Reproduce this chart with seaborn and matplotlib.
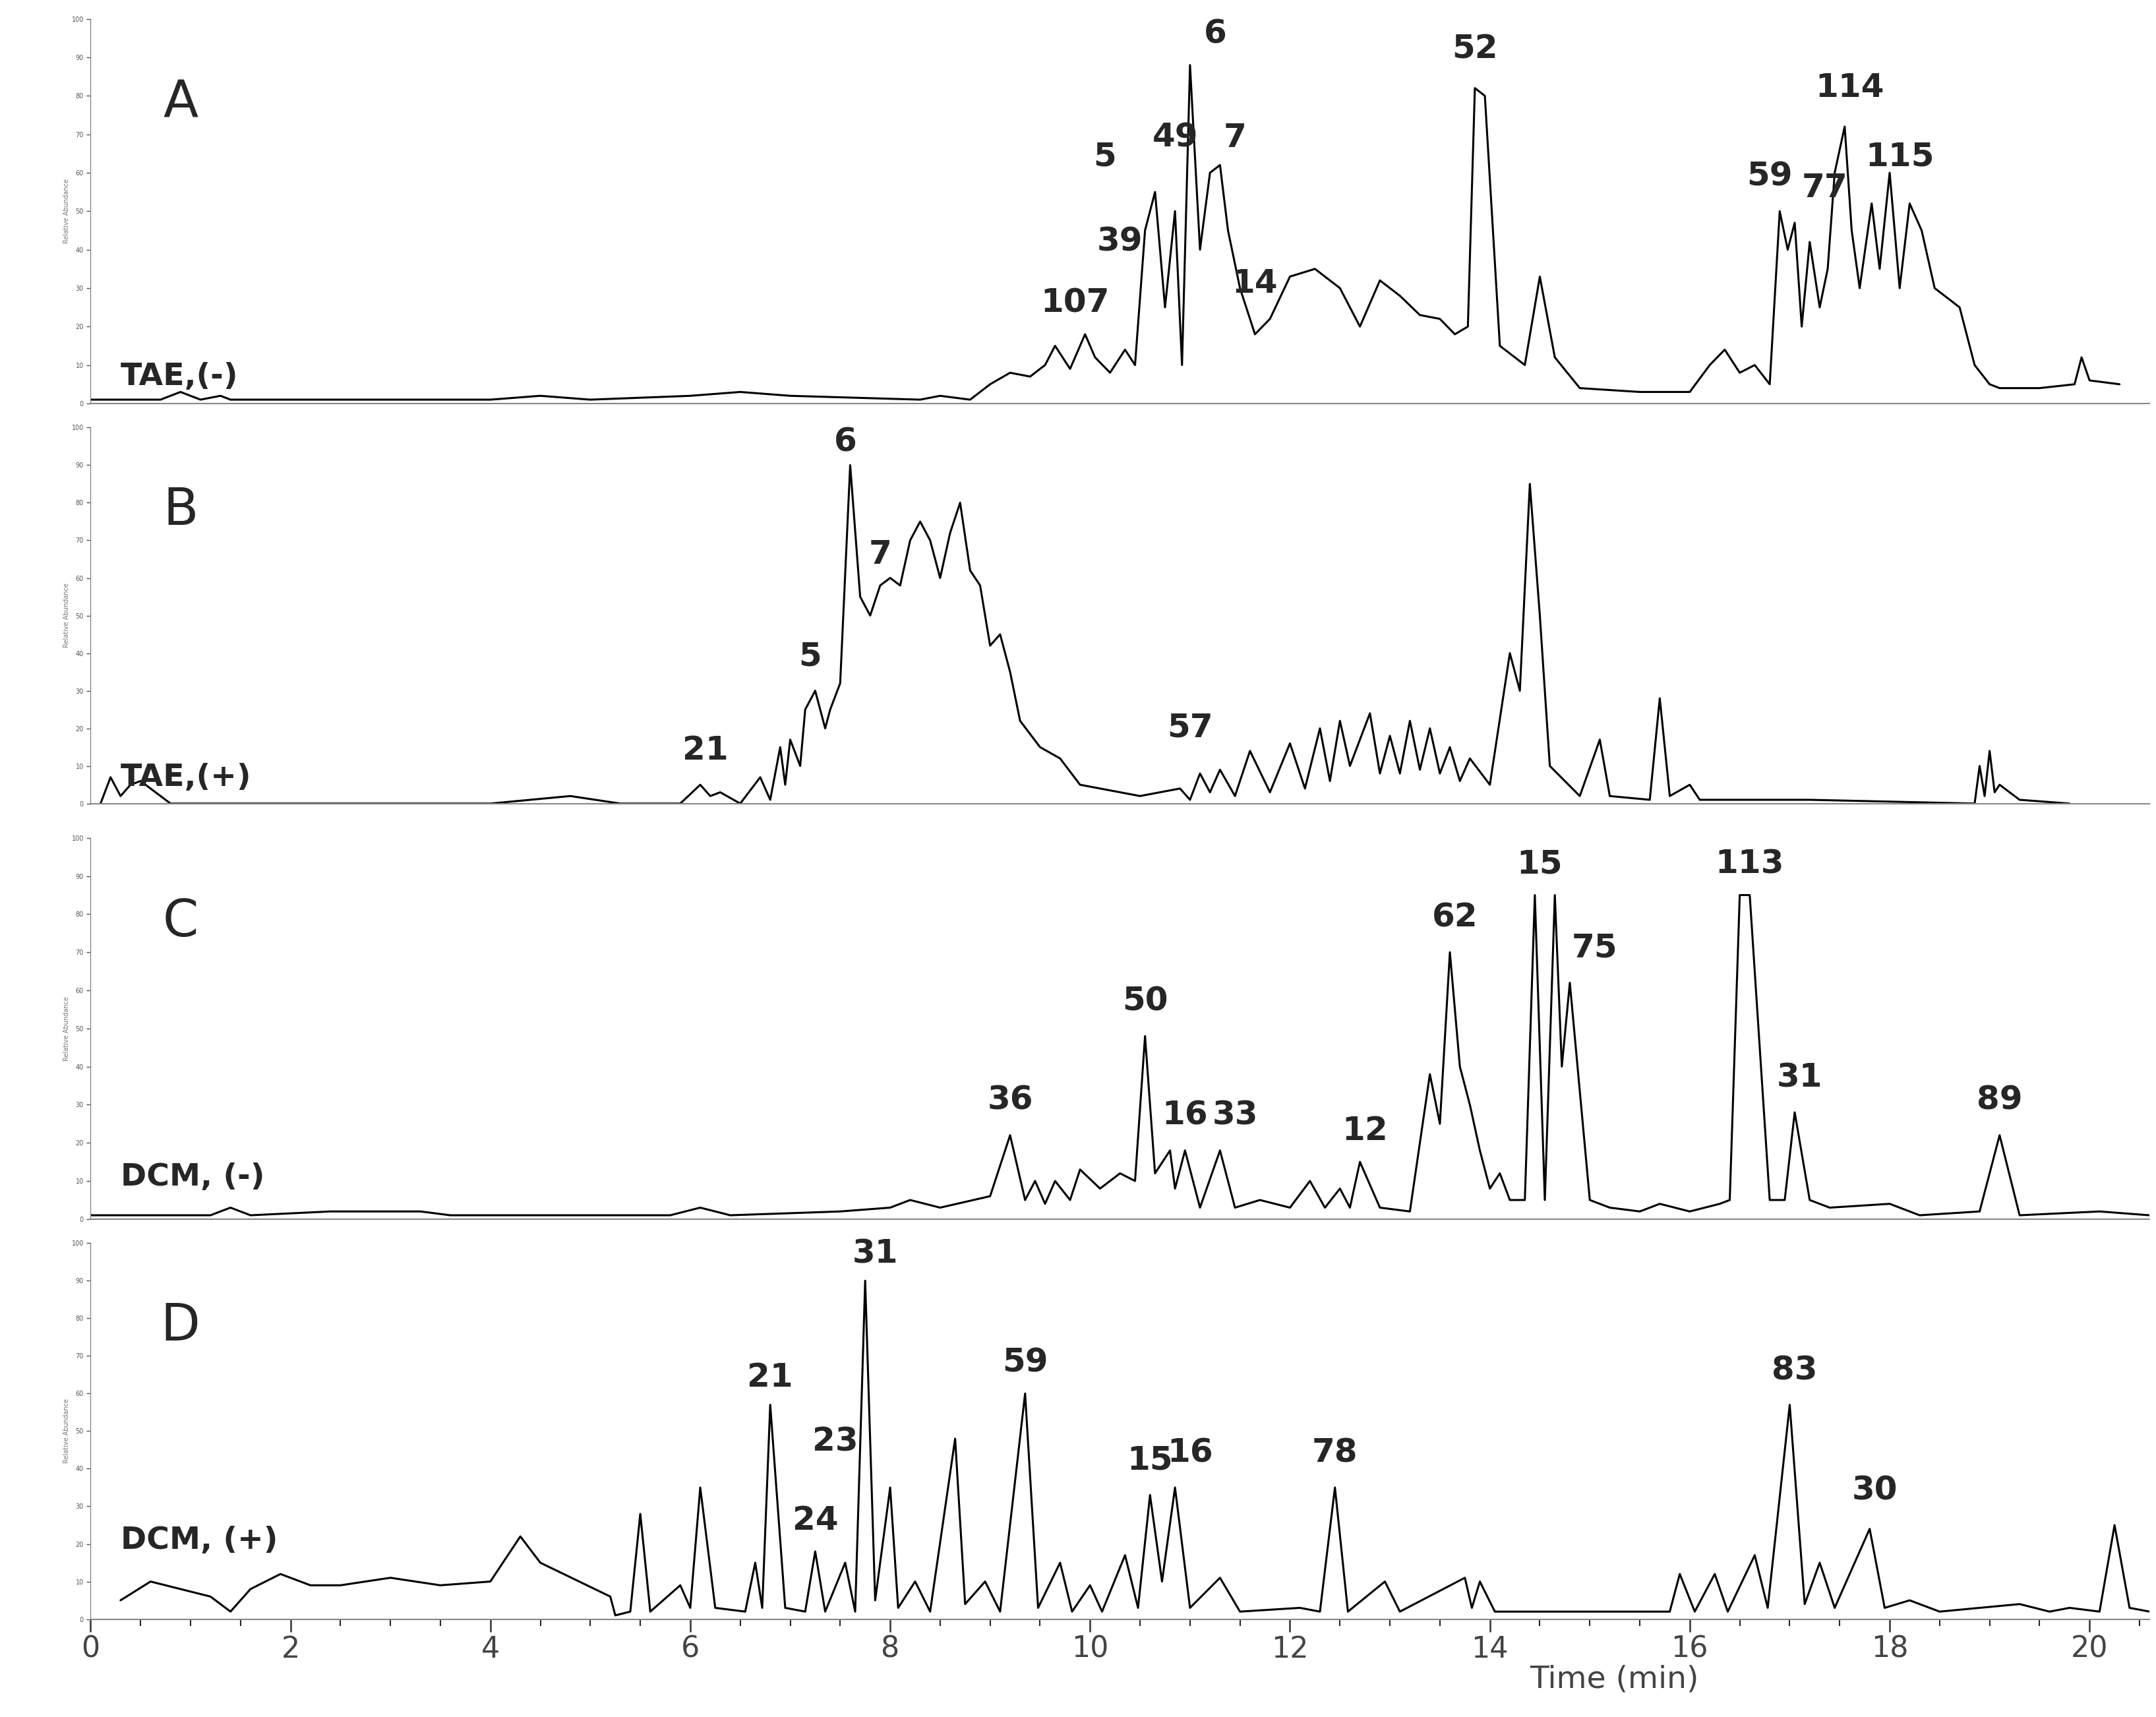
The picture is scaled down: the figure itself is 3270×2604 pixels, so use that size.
import numpy as np
import matplotlib
matplotlib.use("Agg")
import matplotlib.pyplot as plt
import seaborn as sns

sns.set_style("white")
plt.rcParams['font.family'] = ['DejaVu Sans']

A_trace = [(0,1),(0.7,1),(0.9,3),(1.1,1),(1.3,2),(1.4,1),(1.6,1),(4,1),(4.5,2),(5,1),(6,2),(6.5,3),(7,2),(8.3,1),(8.5,2),(8.8,1),
 (9.0,5),(9.2,8),(9.4,7),(9.55,10),(9.65,15),(9.8,9),(9.95,18),(10.05,12),(10.2,8),(10.35,14),(10.45,10),(10.55,45),(10.65,55),
 (10.75,25),(10.85,50),(10.92,10),(11.0,88),(11.1,40),(11.2,60),(11.3,62),(11.38,45),(11.5,30),(11.65,18),(11.8,22),(12.0,33),
 (12.25,35),(12.5,30),(12.7,20),(12.9,32),(13.1,28),(13.3,23),(13.5,22),(13.65,18),(13.78,20),(13.85,82),(13.95,80),(14.1,15),
 (14.35,10),(14.5,33),(14.65,12),(14.9,4),(15.5,3),(16.0,3),(16.2,10),(16.35,14),(16.5,8),(16.65,10),(16.8,5),(16.9,50),(16.98,40),
 (17.05,47),(17.12,20),(17.2,42),(17.3,25),(17.38,35),(17.45,60),(17.55,72),(17.62,45),(17.7,30),(17.82,52),(17.9,35),(18.0,60),
 (18.1,30),(18.2,52),(18.32,45),(18.45,30),(18.6,27),(18.7,25),(18.85,10),(19.0,5),(19.1,4),(19.5,4),(19.85,5),(19.92,12),(20.0,6),(20.3,5)]
A_labels = ["107","39","5","49","6","7","14","52","59","77","114","115"]
A_lab_t = [9.85,10.3,10.15,10.85,11.25,11.45,11.65,13.85,16.8,17.35,17.6,18.1]
A_lab_y = [22,38,60,65,92,65,27,88,55,52,78,60]

B_trace = [(0.1,0),(0.2,7),(0.3,2),(0.4,5),(0.5,6),(0.8,0),(4,0),(4.8,2),(5.3,0),(5.9,0),(6.1,5),(6.2,2),(6.3,3),(6.5,0),(6.7,7),(6.8,1),
 (6.9,15),(6.95,5),(7.0,17),(7.1,10),(7.15,25),(7.25,30),(7.35,20),(7.4,25),(7.5,32),(7.6,90),(7.7,55),(7.8,50),(7.9,58),(8.0,60),
 (8.1,58),(8.2,70),(8.3,75),(8.4,70),(8.5,60),(8.6,72),(8.7,80),(8.8,62),(8.9,58),(9.0,42),(9.1,45),(9.2,35),(9.3,22),(9.5,15),
 (9.7,12),(9.9,5),(10.5,2),(10.9,4),(11.0,1),(11.1,8),(11.2,3),(11.3,9),(11.45,2),(11.6,14),(11.8,3),(12.0,16),(12.15,4),(12.3,20),
 (12.4,6),(12.5,22),(12.6,10),(12.8,24),(12.9,8),(13.0,18),(13.1,8),(13.2,22),(13.3,9),(13.4,20),(13.5,8),(13.6,15),(13.7,6),
 (13.8,12),(14.0,5),(14.2,40),(14.3,30),(14.4,85),(14.5,50),(14.6,10),(14.9,2),(15.1,17),(15.2,2),(15.6,1),(15.7,28),(15.8,2),
 (16.0,5),(16.1,1),(17.2,1),(18.85,0),(18.9,10),(18.95,2),(19.0,14),(19.05,3),(19.1,5),(19.3,1),(19.8,0)]
B_labels = ["21","5","6","7","57"]
B_lab_t = [6.15,7.2,7.55,7.9,11.0]
B_lab_y = [10,35,92,62,16]

C_trace = [(0,1),(1.2,1),(1.4,3),(1.6,1),(2.4,2),(3.3,2),(3.6,1),(5.8,1),(6.1,3),(6.4,1),(7.5,2),(8.0,3),(8.2,5),(8.5,3),(9.0,6),
 (9.2,22),(9.35,5),(9.45,10),(9.55,4),(9.65,10),(9.8,5),(9.9,13),(10.1,8),(10.3,12),(10.45,10),(10.55,48),(10.65,12),(10.8,18),
 (10.85,8),(10.95,18),(11.1,3),(11.3,18),(11.45,3),(11.7,5),(12.0,3),(12.2,10),(12.35,3),(12.5,8),(12.6,3),(12.7,15),(12.9,3),
 (13.2,2),(13.4,38),(13.5,25),(13.6,70),(13.7,40),(13.8,30),(13.9,18),(14.0,8),(14.1,12),(14.2,5),(14.35,5),(14.45,85),(14.55,5),
 (14.65,85),(14.72,40),(14.8,62),(15.0,5),(15.2,3),(15.5,2),(15.7,4),(16.0,2),(16.3,4),(16.4,5),(16.5,85),(16.6,85),(16.8,5),
 (16.95,5),(17.05,28),(17.2,5),(17.4,3),(18.0,4),(18.3,1),(18.9,2),(19.1,22),(19.3,1),(20.1,2),(20.6,1)]
C_labels = ["36","50","16","33","12","62","15","75","113","31","89"]
C_lab_t = [9.2,10.55,10.95,11.45,12.75,13.65,14.5,15.05,16.6,17.1,19.1]
C_lab_y = [27,53,23,23,19,75,89,67,89,33,27]

D_trace = [(0.3,5),(0.6,10),(0.9,8),(1.2,6),(1.4,2),(1.6,8),(1.9,12),(2.2,9),(2.5,9),(3.0,11),(3.5,9),(4.0,10),(4.3,22),(4.5,15),
 (5.2,6),(5.25,1),(5.4,2),(5.5,28),(5.6,2),(5.9,9),(6.0,3),(6.1,35),(6.25,3),(6.55,2),(6.65,15),(6.72,3),(6.8,57),(6.95,3),
 (7.15,2),(7.25,18),(7.35,2),(7.55,15),(7.65,2),(7.75,90),(7.85,5),(8.0,35),(8.08,3),(8.25,10),(8.4,2),(8.65,48),(8.75,4),
 (8.95,10),(9.1,2),(9.35,60),(9.48,3),(9.7,15),(9.82,2),(10.0,9),(10.12,2),(10.35,17),(10.48,3),(10.6,33),(10.72,10),(10.85,35),
 (11.0,3),(11.3,11),(11.5,2),(12.1,3),(12.3,2),(12.45,35),(12.58,2),(12.95,10),(13.1,2),(13.75,11),(13.82,3),(13.9,10),(14.05,2),
 (15.8,2),(15.9,12),(16.05,2),(16.25,12),(16.38,2),(16.65,17),(16.78,3),(17.0,57),(17.15,4),(17.3,15),(17.45,3),(17.8,24),
 (17.95,3),(18.2,5),(18.5,2),(19.3,4),(19.6,2),(19.8,3),(20.1,2),(20.25,25),(20.4,3),(20.6,2)]
D_labels = ["21","24","23","31","59","15","16","78","83","30"]
D_lab_t = [6.8,7.25,7.45,7.85,9.35,10.6,11.0,12.45,17.05,17.85]
D_lab_y = [60,22,43,93,64,38,40,40,62,30]

panels = [("A","TAE,(-)",A_trace,A_labels,A_lab_t,A_lab_y,3),
          ("B","TAE,(+)",B_trace,B_labels,B_lab_t,B_lab_y,3),
          ("C","DCM, (-)",C_trace,C_labels,C_lab_t,C_lab_y,7),
          ("D","DCM, (+)",D_trace,D_labels,D_lab_t,D_lab_y,17)]
rects = [(0.989,0.765),(0.751,0.532),(0.512,0.290),(0.276,0.057)]

fig = plt.figure(figsize=(32.7,26.04), dpi=100)
for i,((let,name,tr,labs,lt,ly,ny),(top,bot)) in enumerate(zip(panels,rects)):
    ax = fig.add_axes([0.042,bot,0.955,top-bot])
    arr = np.array(tr)
    sns.lineplot(x=arr[:,0], y=arr[:,1], ax=ax, color="black", lw=2.2, estimator=None, sort=False)
    for l,t,y in zip(labs,lt,ly):
        ax.text(t,y,l,ha="center",va="bottom",fontsize=36,fontweight="bold")
    ax.text(0.9,78,let,fontsize=56,ha="center",va="center")
    ax.text(0.3,ny,name,fontsize=34,fontweight="bold",va="bottom")
    ax.set_xlim(0,20.6); ax.set_ylim(0,100)
    ax.set_yticks(range(0,101,10))
    ax.tick_params(axis="y",labelsize=7,length=4,width=1,colors="#555555",left=True)
    ax.set_ylabel("Relative Abundance",fontsize=7,color="#777777",labelpad=2)
    for s in ["top","right"]:
        ax.spines[s].set_visible(False)
    ax.spines["left"].set_linewidth(1); ax.spines["left"].set_color("#888888")
    ax.spines["bottom"].set_linewidth(1.5); ax.spines["bottom"].set_color("#888888")
    if i < 3:
        ax.set_xticks([])
    else:
        ax.set_xticks(range(0,21,2))
        ax.set_xticks(np.arange(0,20.6,0.5),minor=True)
        ax.tick_params(axis="x",which="major",labelsize=32,length=14,width=2,bottom=True,colors="#444444")
        ax.tick_params(axis="x",which="minor",length=7,width=1.5,bottom=True)
        ax.set_xlabel("Time (min)",fontsize=34,color="#444444",labelpad=2)
        ax.xaxis.set_label_coords(0.74,-0.12)
fig.savefig("out.png",dpi=100,facecolor="white")
